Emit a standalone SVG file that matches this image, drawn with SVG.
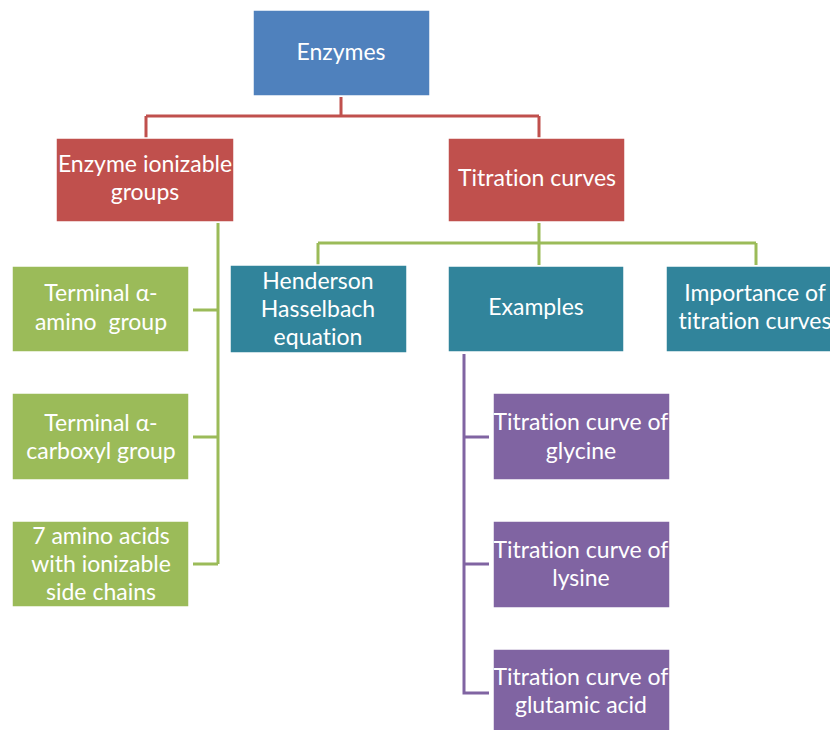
<svg xmlns="http://www.w3.org/2000/svg" width="830" height="730" viewBox="0 0 830 730">
<style>
.box{stroke:#ffffff;stroke-width:1.5}
.blue{fill:#4F81BD}.red{fill:#C0504D}.green{fill:#9BBB59}.teal{fill:#31849B}.purple{fill:#8064A2}
text{font-family:Lato,"Liberation Sans",sans-serif;font-size:23px;fill:#ffffff;text-anchor:middle;font-variant-ligatures:none}
.cr{stroke:#C0504D;stroke-width:3;fill:none}
.cg{stroke:#9BBB59;stroke-width:3;fill:none}
.cp{stroke:#8064A2;stroke-width:3;fill:none}
</style>
<rect width="830" height="730" fill="#ffffff"/>
<g id="connectors">
<path class="cr" d="M341,97 V116 M146,116 H539 M146,116 V138 M539,116 V138"/>
<path class="cg" d="M539,223 V243 M318,243 H756 M318,243 V265 M539,243 V265 M756,243 V265"/>
<path class="cg" d="M218,223 V564 M193,310 H218 M193,437 H218 M193,564 H218"/>
<path class="cp" d="M464,354 V693 H489 M464,437 H489 M464,564 H489"/>
</g>
<g id="enzymes"><rect class="box blue" x="253" y="10" width="177" height="86"/><text x="341" y="60">Enzymes</text></g>
<g id="ionizable"><rect class="box red" x="56" y="138" width="178" height="84"/><text x="145" y="172">Enzyme ionizable</text><text x="145" y="200">groups</text></g>
<g id="titration"><rect class="box red" x="448" y="138" width="177" height="84"/><text x="537" y="186">Titration curves</text></g>
<g id="amino"><rect class="box green" x="12" y="266" width="177" height="86"/><text x="101" y="301">Terminal α-</text><text x="101" y="330" xml:space="preserve">amino  group</text></g>
<g id="carboxyl"><rect class="box green" x="12" y="393" width="177" height="87"/><text x="101" y="431">Terminal α-</text><text x="101" y="459">carboxyl group</text></g>
<g id="sidechains"><rect class="box green" x="12" y="521" width="177" height="86"/><text x="101" y="544">7 amino acids</text><text x="101" y="572">with ionizable</text><text x="101" y="600">side chains</text></g>
<g id="henderson"><rect class="box teal" x="230" y="265" width="177" height="88"/><text x="318" y="289">Henderson</text><text x="318" y="317">Hasselbach</text><text x="318" y="345">equation</text></g>
<g id="examples"><rect class="box teal" x="448" y="266" width="176" height="86"/><text x="536" y="315">Examples</text></g>
<g id="importance"><rect class="box teal" x="666" y="266" width="178" height="86"/><text x="755" y="301">Importance of</text><text x="755" y="329">titration curves</text></g>
<g id="glycine"><rect class="box purple" x="493" y="393" width="177" height="87"/><text x="581" y="430">Titration curve of</text><text x="581" y="459">glycine</text></g>
<g id="lysine"><rect class="box purple" x="493" y="521" width="177" height="87"/><text x="581" y="558">Titration curve of</text><text x="581" y="586">lysine</text></g>
<g id="glutamic"><rect class="box purple" x="493" y="649" width="177" height="90"/><text x="581" y="685">Titration curve of</text><text x="581" y="713">glutamic acid</text></g>
</svg>
